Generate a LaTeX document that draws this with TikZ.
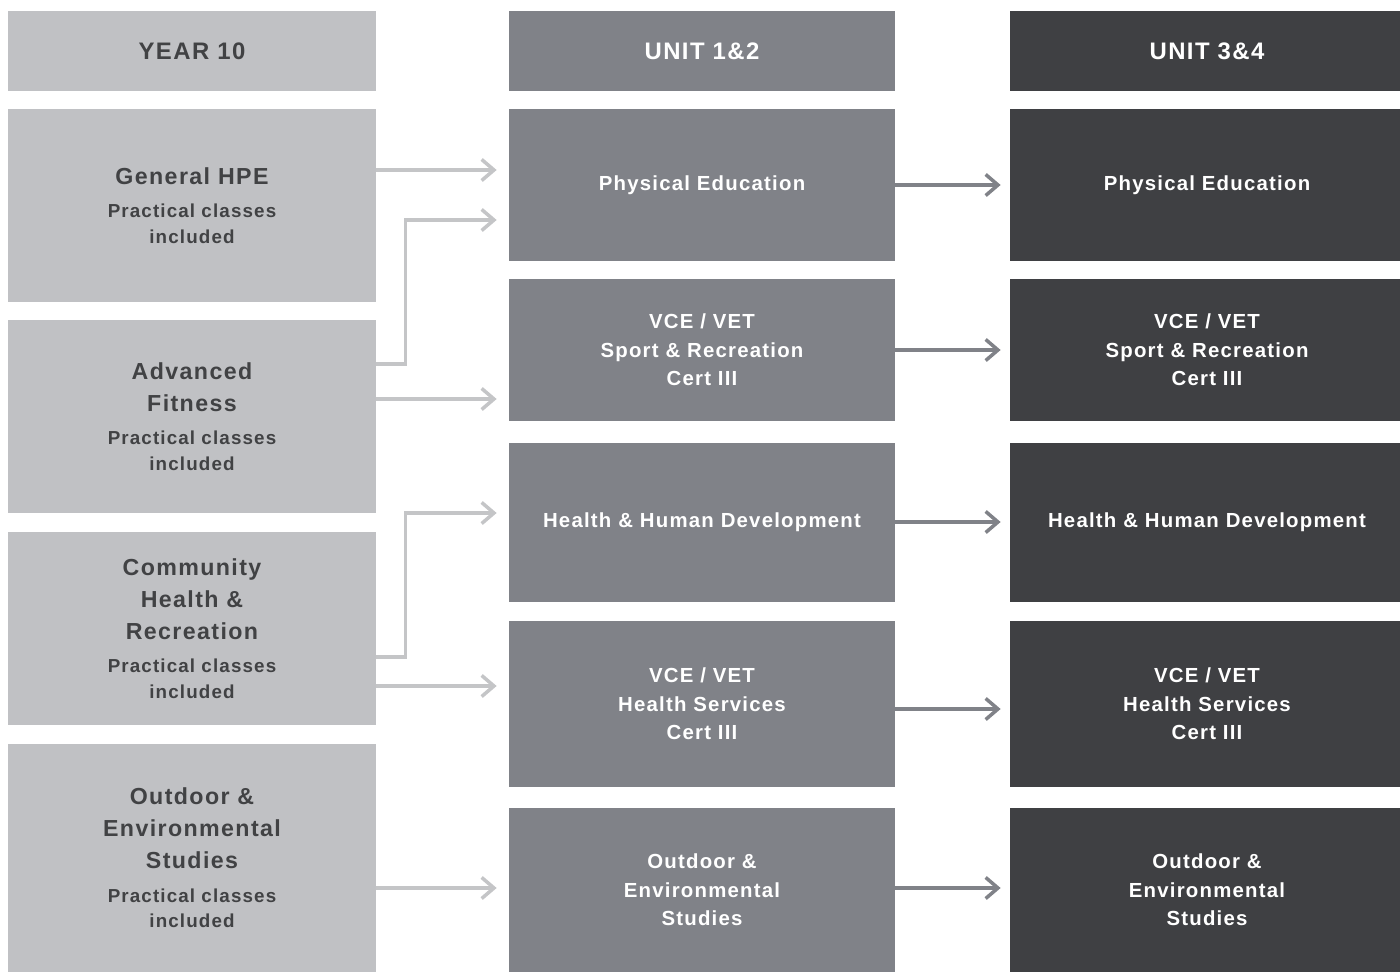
\documentclass[tikz,border=0pt]{standalone}
\usepackage{fontspec}
\setmainfont{Liberation Sans}[LetterSpace=6]
\usetikzlibrary{arrows.meta}

\definecolor{yrfill}{HTML}{C0C1C4}
\definecolor{yrtext}{HTML}{414244}
\definecolor{uofill}{HTML}{808288}
\definecolor{utfill}{HTML}{3F4043}
\definecolor{ltarrow}{HTML}{C4C5C7}
\definecolor{dkarrow}{HTML}{808288}

\def\px{0.02cm}
\newcommand\smtxt{\fontsize{10.7}{14.6}\selectfont}

\tikzset{
    cell/.style={inner sep=0pt,align=center},
    yr/.style={cell,fill=yrfill,text=yrtext,minimum width=368*\px,font=\bfseries\fontsize{13.2}{18.1}\selectfont},
    uo/.style={cell,fill=uofill,text=white,minimum width=386*\px,font=\bfseries\fontsize{11.6}{16.2}\selectfont},
    ut/.style={cell,fill=utfill,text=white,minimum width=394*\px,font=\bfseries\fontsize{11.6}{16.2}\selectfont},
    hd/.style={font=\bfseries\fontsize{13.6}{16}\selectfont,minimum height=80*\px},
    lt/.style={draw=ltarrow,line width=2pt,-{Straight Barb[length=7pt,width=12pt]},shorten >=12*\px},
    dk/.style={draw=dkarrow,line width=2pt,-{Straight Barb[length=7pt,width=12pt]},shorten >=9*\px}
}

\begin{document}
\begin{tikzpicture}[x=\px,y=-\px]
    \useasboundingbox (0,0) rectangle (1400,972);

    %Year10
    \node[yr,hd] (h1) at (192,51) {YEAR 10};
    \node[yr,minimum height=193*\px] (g1) at (192,205.5) {General HPE\\[1pt]\smtxt Practical classes\\[-3.5pt]\smtxt included};
    \node[yr,minimum height=193*\px] (a1) at (192,416.5) {Advanced\\Fitness\\[1pt]\smtxt Practical classes\\[-3.5pt]\smtxt included};
    \node[yr,minimum height=193*\px] (c1) at (192,628.5) {Community\\Health \&\\Recreation\\[1pt]\smtxt Practical classes\\[-3.5pt]\smtxt included};
    \node[yr,minimum height=228*\px] (o1) at (192,858) {Outdoor \&\\Environmental\\Studies\\[1pt]\smtxt Practical classes\\[-3.5pt]\smtxt included};

    %Unit12
    \node[uo,hd] (h2) at (702,51) {UNIT 1\&2};
    \node[uo,minimum height=152*\px] (p2) at (702,185) {Physical Education};
    \node[uo,minimum height=142*\px] (s2) at (702,350) {VCE / VET\\Sport \& Recreation\\Cert III};
    \node[uo,minimum height=159*\px] (d2) at (702,522.5) {Health \& Human Development};
    \node[uo,minimum height=166*\px] (v2) at (702,704) {VCE / VET\\Health Services\\Cert III};
    \node[uo,minimum height=164*\px] (o2) at (702,890) {Outdoor \&\\Environmental\\Studies};

    %Unit34
    \node[ut,hd] (h3) at (1207,51) {UNIT 3\&4};
    \node[ut,minimum height=152*\px] (p3) at (1207,185) {Physical Education};
    \node[ut,minimum height=142*\px] (s3) at (1207,350) {VCE / VET\\Sport \& Recreation\\Cert III};
    \node[ut,minimum height=159*\px] (d3) at (1207,522.5) {Health \& Human Development};
    \node[ut,minimum height=166*\px] (v3) at (1207,704) {VCE / VET\\Health Services\\Cert III};
    \node[ut,minimum height=164*\px] (o3) at (1207,890) {Outdoor \&\\Environmental\\Studies};

    %Flechas Year10
    \foreach \a/\b/\y in {g1/p2/170,a1/s2/399,c1/v2/686,o1/o2/888}{
        \draw[lt] (\a.east |- 0,\y) -- (\b.west |- 0,\y);
    }
    \draw[lt] (a1.east |- 0,364) -- ++(29,0) |- (p2.west |- 0,220);
    \draw[lt] (c1.east |- 0,657) -- ++(29,0) |- (d2.west |- 0,513);

    %Flechas Unit12
    \foreach \n/\y in {p/185,s/350,d/522,v/709,o/888}{
        \draw[dk] (\n2.east |- 0,\y) -- (\n3.west |- 0,\y);
    }

\end{tikzpicture}
\end{document}
